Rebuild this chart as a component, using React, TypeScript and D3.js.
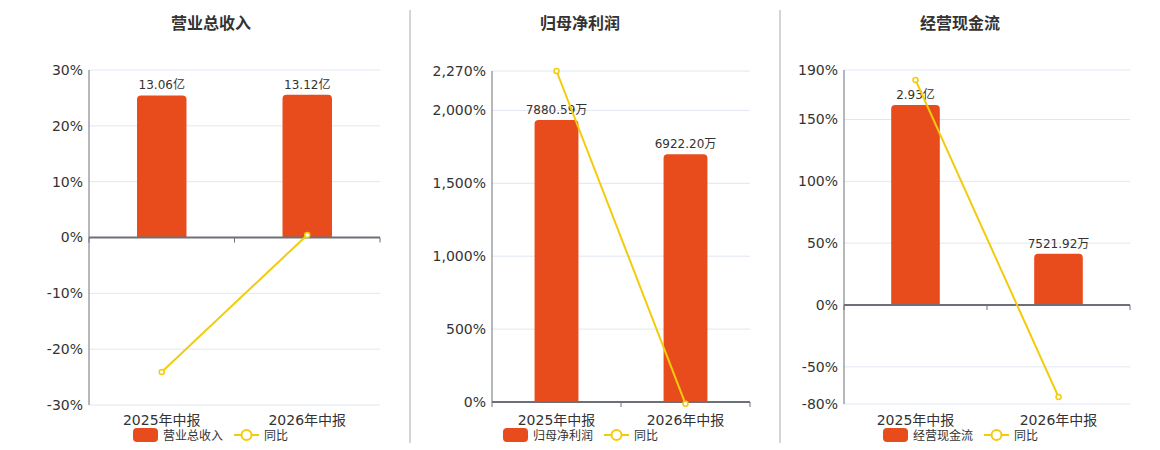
import { useEffect, useRef } from 'react'
import * as d3 from 'd3'

// categories shared by all three panels
const periods = ['2025年中报', '2026年中报']

// panel titles and series names
const titles = ['营业总收入', '归母净利润', '经营现金流']

// bar values in 万元 and their labels
const revenueValues = [130600, 131200]
const revenueLabels = ['13.06亿', '13.12亿']
const profitValues = [7880.59, 6922.2]
const profitLabels = ['7880.59万', '6922.20万']
const cashValues = [29300, 7521.92]
const cashLabels = ['2.93亿', '7521.92万']

// year-on-year growth, %
const revenueYoy = [-24.1, 0.46]
const profitYoy = [2270, -12.16]
const cashYoy = [182, -74.3]

// percentage axis ticks
const revenueTicks = [-30, -20, -10, 0, 10, 20, 30]
const profitTicks = [0, 500, 1000, 1500, 2000, 2270]
const cashTicks = [-80, -50, 0, 50, 100, 150, 190]

// hidden bar axis extents (万元)
const revenueBarDomain = [-154000, 154000]
const profitBarDomain = [0, 9250]
const cashBarDomain = [-14500, 34430]

const BAR = '#e84c1d'
const LINE = '#f2cc0c'
const FONT = '"DejaVu Sans", "Noto Sans CJK SC", sans-serif'

const panels = [
  { title: titles[0], values: revenueValues, labels: revenueLabels, yoy: revenueYoy, ticks: revenueTicks, barDomain: revenueBarDomain,
    left: 89, right: 380, top: 70, bottom: 405, titleX: 211, legendX: 133 },
  { title: titles[1], values: profitValues, labels: profitLabels, yoy: profitYoy, ticks: profitTicks, barDomain: profitBarDomain,
    left: 492, right: 750, top: 71, bottom: 402, titleX: 580, legendX: 503 },
  { title: titles[2], values: cashValues, labels: cashLabels, yoy: cashYoy, ticks: cashTicks, barDomain: cashBarDomain,
    left: 844, right: 1130, top: 70, bottom: 404, titleX: 960, legendX: 883 },
]

// plain hyphen for negatives, thousands separator
const fmtPct = (d: number) => d3.format(',')(d).replace('\u2212', '-') + '%'

export default function App() {
  const svgRef = useRef<SVGSVGElement>(null)

  useEffect(() => {
    if (!svgRef.current) return
    const svg = d3.select(svgRef.current)
    svg.selectAll('*').remove()

    // panel separators
    ;[410, 780].forEach(x => {
      svg.append('line')
        .attr('x1', x).attr('x2', x).attr('y1', 10).attr('y2', 443)
        .attr('stroke', '#aaa').attr('stroke-width', 1)
    })

    panels.forEach(p => {
      const g = svg.append('g')

      const y = d3.scaleLinear()
        .domain([p.ticks[0], p.ticks[p.ticks.length - 1]])
        .range([p.bottom, p.top])
      const yBar = d3.scaleLinear().domain(p.barDomain).range([p.bottom, p.top])
      const x = d3.scaleBand().domain(periods).range([p.left, p.right])
      const barW = x.bandwidth() * 0.34

      // title
      g.append('text')
        .attr('x', p.titleX).attr('y', 29)
        .attr('text-anchor', 'middle')
        .attr('font-size', 16).attr('font-weight', 'bold')
        .attr('fill', '#333').attr('font-family', FONT)
        .text(p.title)

      // grid lines
      g.selectAll('.grid')
        .data(p.ticks)
        .enter()
        .append('line')
        .attr('x1', p.left).attr('x2', p.right)
        .attr('y1', d => y(d)).attr('y2', d => y(d))
        .attr('stroke', '#e0e6f1').attr('stroke-width', 1)

      // y tick labels
      g.selectAll('.ytick')
        .data(p.ticks)
        .enter()
        .append('text')
        .attr('x', p.left - 6)
        .attr('y', d => y(d))
        .attr('dy', '0.35em')
        .attr('text-anchor', 'end')
        .attr('font-size', 14).attr('fill', '#333').attr('font-family', FONT)
        .text(d => fmtPct(d))

      // y axis line
      g.append('line')
        .attr('x1', p.left).attr('x2', p.left)
        .attr('y1', p.top).attr('y2', p.bottom)
        .attr('stroke', '#6e7079').attr('stroke-width', 1)

      // bars
      const zeroY = yBar(0)
      g.selectAll('.bar')
        .data(p.values)
        .enter()
        .append('path')
        .attr('d', (d, i) => {
          const cx = (x(periods[i]) ?? 0) + x.bandwidth() / 2
          const top = yBar(d)
          const x0 = cx - barW / 2
          const r = 4
          return `M${x0},${zeroY}V${top + r}Q${x0},${top} ${x0 + r},${top}H${x0 + barW - r}Q${x0 + barW},${top} ${x0 + barW},${top + r}V${zeroY}Z`
        })
        .attr('fill', BAR)

      // bar labels
      g.selectAll('.barlabel')
        .data(p.labels)
        .enter()
        .append('text')
        .attr('x', (d, i) => (x(periods[i]) ?? 0) + x.bandwidth() / 2)
        .attr('y', (d, i) => yBar(p.values[i]) - 6)
        .attr('text-anchor', 'middle')
        .attr('font-size', 12).attr('fill', '#333').attr('font-family', FONT)
        .text(d => d)

      // x axis at zero
      const axisY = y(0)
      g.append('line')
        .attr('x1', p.left).attr('x2', p.right)
        .attr('y1', axisY).attr('y2', axisY)
        .attr('stroke', '#6e7079').attr('stroke-width', 2)
      ;[p.left, (p.left + p.right) / 2, p.right].forEach(tx => {
        g.append('line')
          .attr('x1', tx).attr('x2', tx)
          .attr('y1', axisY).attr('y2', axisY + 5)
          .attr('stroke', '#6e7079').attr('stroke-width', 1)
      })

      // category labels
      g.selectAll('.xlabel')
        .data(periods)
        .enter()
        .append('text')
        .attr('x', d => (x(d) ?? 0) + x.bandwidth() / 2)
        .attr('y', 425)
        .attr('text-anchor', 'middle')
        .attr('font-size', 14).attr('fill', '#333').attr('font-family', FONT)
        .text(d => d)

      // yoy line
      const line = d3.line<number>()
        .x((d, i) => (x(periods[i]) ?? 0) + x.bandwidth() / 2)
        .y(d => y(d))
      g.append('path')
        .datum(p.yoy)
        .attr('d', line)
        .attr('fill', 'none')
        .attr('stroke', LINE)
        .attr('stroke-width', 2)
      g.selectAll('.pt')
        .data(p.yoy)
        .enter()
        .append('circle')
        .attr('cx', (d, i) => (x(periods[i]) ?? 0) + x.bandwidth() / 2)
        .attr('cy', d => y(d))
        .attr('r', 2.5)
        .attr('fill', '#fff')
        .attr('stroke', LINE)
        .attr('stroke-width', 1.5)

      // legend
      const lx = p.legendX
      g.append('rect')
        .attr('x', lx).attr('y', 428).attr('width', 25).attr('height', 14)
        .attr('rx', 4).attr('fill', BAR)
      g.append('text')
        .attr('x', lx + 30).attr('y', 440)
        .attr('font-size', 12).attr('fill', '#333').attr('font-family', FONT)
        .text(p.title)
      const l2 = lx + 101
      g.append('line')
        .attr('x1', l2).attr('x2', l2 + 25).attr('y1', 435).attr('y2', 435)
        .attr('stroke', LINE).attr('stroke-width', 2)
      g.append('circle')
        .attr('cx', l2 + 12.5).attr('cy', 435).attr('r', 5)
        .attr('fill', '#fff').attr('stroke', LINE).attr('stroke-width', 2)
      g.append('text')
        .attr('x', l2 + 30).attr('y', 440)
        .attr('font-size', 12).attr('fill', '#333').attr('font-family', FONT)
        .text('同比')
    })
  }, [])

  return (
    <svg
      ref={svgRef}
      width={1160}
      height={450}
      style={{ position: 'absolute', left: 0, top: 0, background: '#fff' }}
    />
  )
}
